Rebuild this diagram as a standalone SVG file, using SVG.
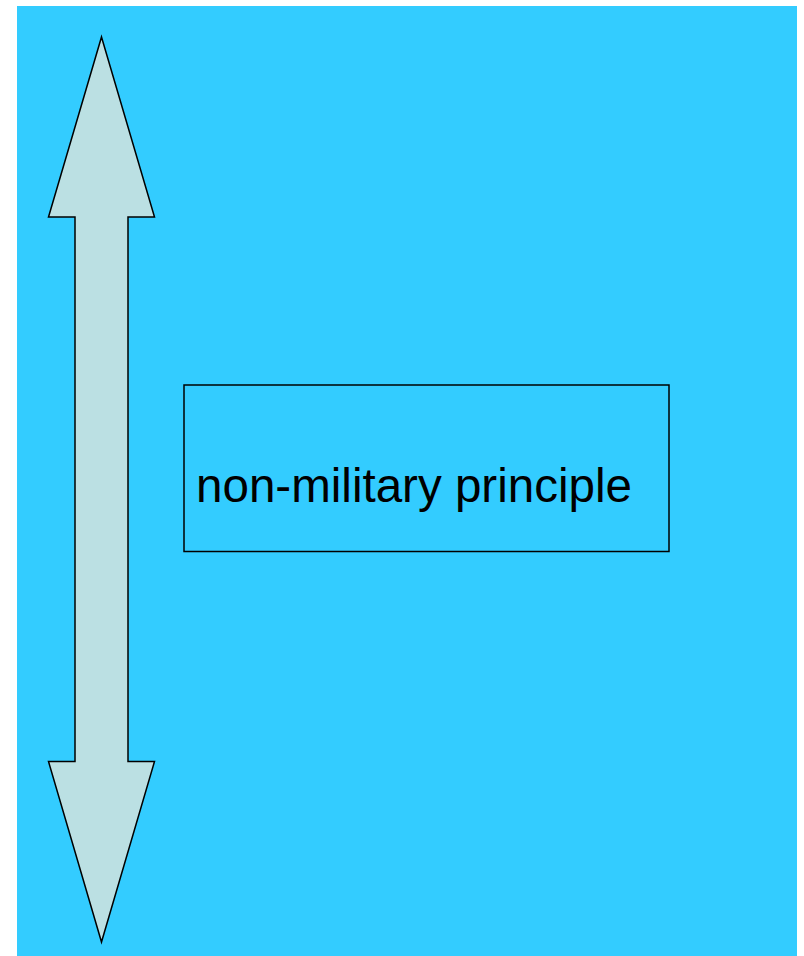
<svg xmlns="http://www.w3.org/2000/svg" width="804" height="956" viewBox="0 0 804 956">
<style>
.shape{stroke:#000;stroke-width:1.5;stroke-linejoin:miter}
.label{font-family:"Liberation Sans",Arial,sans-serif;font-size:48px;fill:#000}
</style>
<rect x="0" y="0" width="804" height="956" fill="#fff"/>
<rect x="17" y="6" width="780" height="950" fill="#33ccff"/>
<g id="arrow">
<polygon class="shape" fill="#bbe0e3" points="101.5,37 154.5,217 128,217 128,761.5 154.5,761.5 101.5,942 48.5,761.5 75,761.5 75,217 48.5,217"/>
</g>
<g id="box">
<rect class="shape" fill="#33ccff" x="184" y="385" width="485" height="166.5"/>
<text class="label" x="196" y="501.5" textLength="436" lengthAdjust="spacingAndGlyphs">non-military principle</text>
</g>
<g id="connectors"></g>
</svg>
